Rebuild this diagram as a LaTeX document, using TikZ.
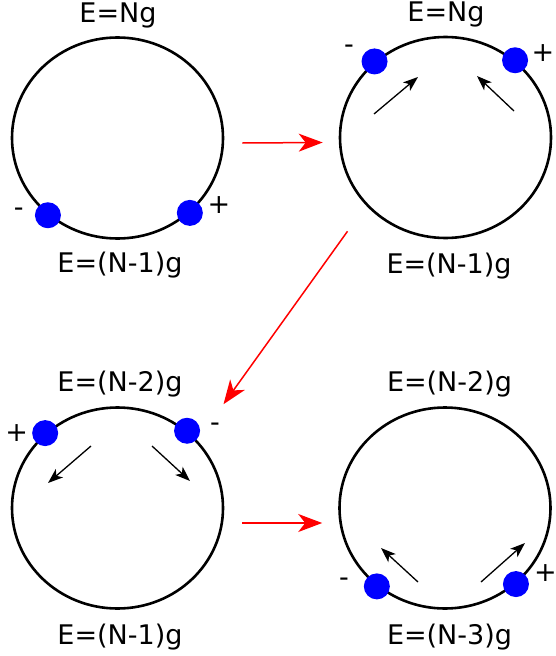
\documentclass[tikz,border=0pt]{standalone}
\usepackage{fontspec}
\setmainfont{DejaVu Sans}
\usetikzlibrary{arrows.meta,positioning,shapes.geometric}

\begin{document}
\begin{tikzpicture}[x=1pt,y=-1pt,
  ring/.style={draw,ellipse,line width=2.6pt,minimum width=211pt,minimum height=201pt,inner sep=0},
  dot/.style={circle,fill=blue,minimum size=26pt,inner sep=0},
  lbl/.style={font=\fontsize{27}{31}\selectfont,inner sep=0,anchor=base},
  sgn/.style={font=\fontsize{27}{31}\selectfont,inner sep=0,anchor=base},
  flow/.style={-{Stealth[length=24pt,width=18pt,inset=7pt]},red,line width=1.5pt},
  push/.style={-{Stealth[length=15pt,width=11pt,inset=4pt]},line width=1.3pt}]
\useasboundingbox (0,0) rectangle (556,656);
% rings
\node[ring] (ringA) at (117.5,138) {};
\node[ring] (ringB) at (445.5,137.5) {};
\node[ring] (ringC) at (117.5,508) {};
\node[ring] (ringD) at (445,508) {};
% charges on the rings
\node[dot] (dA1) at (ringA.228) {};
\node[dot] (dA2) at (ringA.314) {};
\node[dot] (dB1) at (ringB.133) {};
\node[dot] (dB2) at (ringB.48) {};
\node[dot] (dC1) at (ringC.134) {};
\node[dot] (dC2) at (ringC.48) {};
\node[dot] (dD1) at (ringD.229) {};
\node[dot] (dD2) at (ringD.313) {};
\node[sgn] (sA1) at (18.7,216) {-};
\node[sgn] (sA2) at (219,213.5) {+};
\node[sgn] (sB1) at (349,53) {-};
\node[sgn] (sB2) at (543,61.5) {+};
\node[sgn] (sC1) at (16.7,441.5) {+};
\node[sgn] (sC2) at (215,431) {-};
\node[sgn] (sD1) at (344,586) {-};
\node[sgn] (sD2) at (545.5,581.5) {+};
% energies
\node[lbl] (eA1) at ([shift={(0.5,-14)}]ringA.north) {E=Ng};
\node[lbl] (eA2) at ([shift={(2.5,32.5)}]ringA.south) {E=(N-1)g};
\node[lbl] (eB1) at ([shift={(0.5,-14)}]ringB.north) {E=Ng};
\node[lbl] (eB2) at ([shift={(3.5,34)}]ringB.south) {E=(N-1)g};
\node[lbl] (eC1) at ([shift={(2.5,-14.5)}]ringC.north) {E=(N-2)g};
\node[lbl] (eC2) at ([shift={(2.5,34.5)}]ringC.south) {E=(N-1)g};
\node[lbl] (eD1) at ([shift={(4.5,-14.5)}]ringD.north) {E=(N-2)g};
\node[lbl] (eD2) at ([shift={(4.5,34.5)}]ringD.south) {E=(N-3)g};
% steps
\draw[flow] ([shift={(18,5)}]ringA.east) -- ([shift={(-16,5)}]ringB.west);
\draw[flow] ([shift={(-98,-8)}]ringB.south) -- ([shift={(106,-2)}]ringC.north);
\draw[flow] ([shift={(18,15)}]ringC.east) -- ([shift={(-16,15)}]ringD.west);
% motion of the charges
\coordinate (pB1s) at (374,114); \coordinate (pB1e) at (418,77);
\coordinate (pB2s) at (514,111); \coordinate (pB2e) at (477,76);
\coordinate (pC1s) at (91,446);  \coordinate (pC1e) at (48,483);
\coordinate (pC2s) at (152,446); \coordinate (pC2e) at (190,481);
\coordinate (pD1s) at (418,582); \coordinate (pD1e) at (381,548);
\coordinate (pD2s) at (481,582); \coordinate (pD2e) at (525,543);
\foreach \p in {B1,B2,C1,C2,D1,D2} \draw[push] (p\p s) -- (p\p e);
\end{tikzpicture}
\end{document}
